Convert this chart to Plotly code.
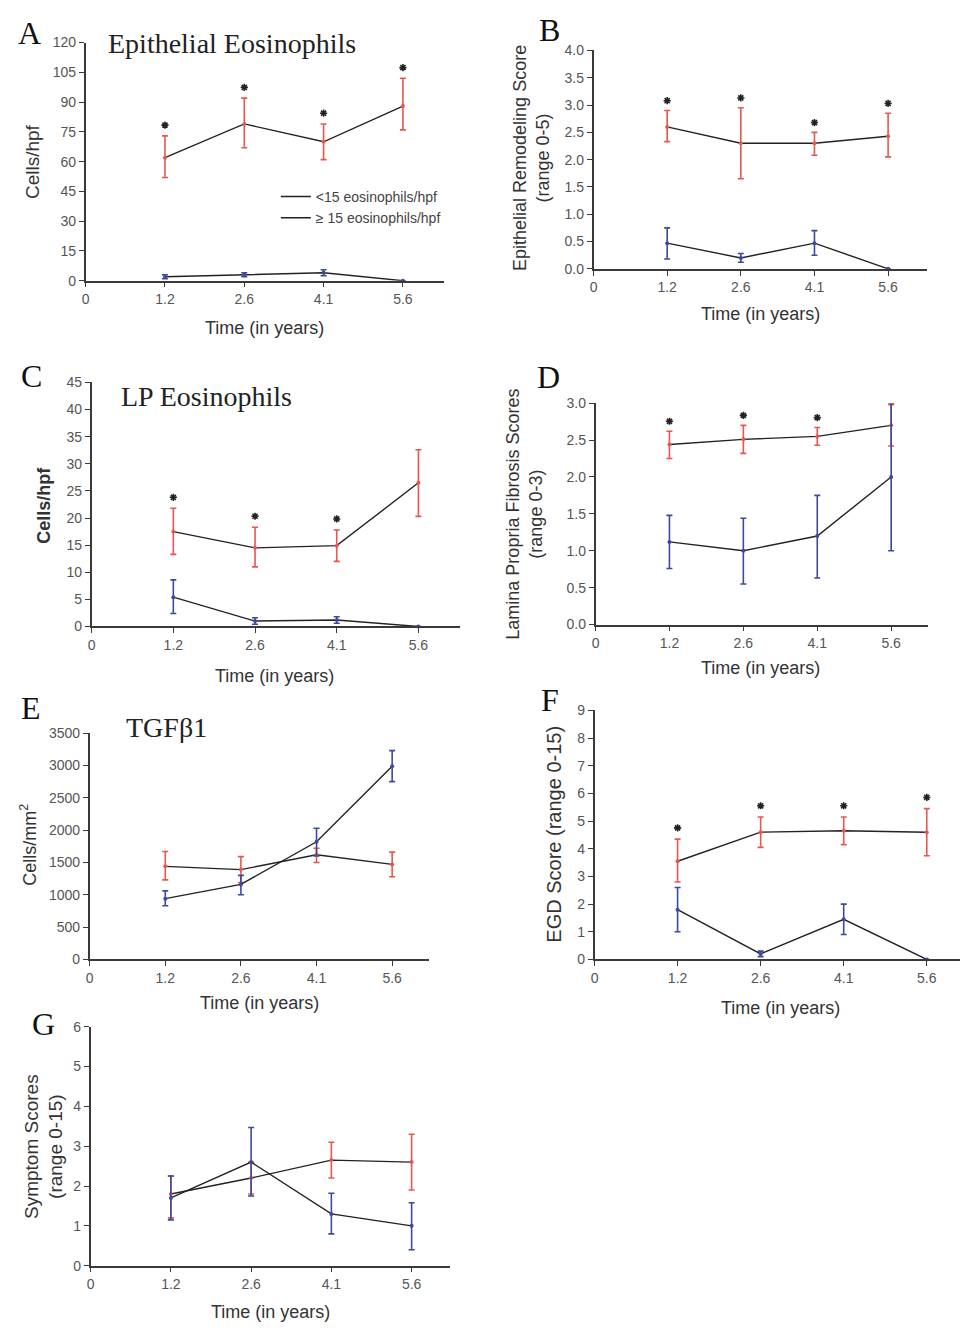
import plotly.graph_objects as go

W, H = 960, 1332

time_labels = ["0", "1.2", "2.6", "4.1", "5.6"]

# A: Epithelial eosinophils (cells/hpf)
epi_eos_high = [62, 79, 70, 88]
epi_eos_high_lo = [52, 67, 61, 76]
epi_eos_high_up = [73, 92, 79, 102]
epi_eos_low = [2, 3, 4, 0]
epi_eos_low_lo = [1, 2, 2.5, 0]
epi_eos_low_up = [3, 4, 5.5, 0]
epi_eos_sig = [1, 1, 1, 1]

# B: Epithelial remodeling score
remod_high = [2.6, 2.3, 2.3, 2.43]
remod_high_lo = [2.33, 1.65, 2.08, 2.05]
remod_high_up = [2.9, 2.95, 2.5, 2.85]
remod_low = [0.47, 0.2, 0.47, 0.0]
remod_low_lo = [0.18, 0.12, 0.25, 0.0]
remod_low_up = [0.75, 0.28, 0.7, 0.0]
remod_sig = [1, 1, 1, 1]

# C: LP eosinophils
lp_eos_high = [17.5, 14.5, 14.9, 26.5]
lp_eos_high_lo = [13.3, 11.0, 12.0, 20.3]
lp_eos_high_up = [21.8, 18.3, 17.8, 32.6]
lp_eos_low = [5.4, 1.0, 1.2, 0.0]
lp_eos_low_lo = [2.4, 0.4, 0.6, 0.0]
lp_eos_low_up = [8.6, 1.6, 1.8, 0.0]
lp_eos_sig = [1, 1, 1, 0]

# D: Lamina propria fibrosis
fib_high = [2.44, 2.51, 2.55, 2.7]
fib_high_lo = [2.25, 2.32, 2.43, 2.42]
fib_high_up = [2.62, 2.7, 2.67, 2.98]
fib_low = [1.12, 1.0, 1.2, 2.0]
fib_low_lo = [0.76, 0.55, 0.63, 1.0]
fib_low_up = [1.48, 1.44, 1.75, 3.0]
fib_sig = [1, 1, 1, 0]

# E: TGFb1 (cells/mm2)
tgf_high = [1440, 1390, 1620, 1470]
tgf_high_lo = [1230, 1190, 1500, 1280]
tgf_high_up = [1670, 1590, 1720, 1660]
tgf_low = [940, 1160, 1820, 2990]
tgf_low_lo = [830, 1000, 1600, 2750]
tgf_low_up = [1060, 1300, 2030, 3230]
tgf_sig = [0, 0, 0, 0]

# F: EGD score
egd_high = [3.55, 4.6, 4.65, 4.6]
egd_high_lo = [2.8, 4.05, 4.15, 3.75]
egd_high_up = [4.35, 5.15, 5.15, 5.45]
egd_low = [1.8, 0.2, 1.45, 0.0]
egd_low_lo = [1.0, 0.1, 0.9, 0.0]
egd_low_up = [2.6, 0.3, 2.0, 0.0]
egd_sig = [1, 1, 1, 1]

# G: Symptom scores
sym_high = [1.8, 2.2, 2.65, 2.6]
sym_high_lo = [1.2, 1.8, 2.2, 1.9]
sym_high_up = [2.25, 2.6, 3.1, 3.3]
sym_low = [1.7, 2.6, 1.3, 1.0]
sym_low_lo = [1.15, 1.75, 0.8, 0.4]
sym_low_up = [2.25, 3.47, 1.82, 1.58]
sym_sig = [0, 0, 0, 0]

legend_low = "<15 eosinophils/hpf"
legend_high = "\u2265 15 eosinophils/hpf"

RED = "#e8574f"
BLUE = "#3c4a9c"
AX = "#3a3a3a"
TICKC = "#555555"
SANS = "Arial, Liberation Sans, sans-serif"
SERIF = "Times New Roman, Liberation Serif, serif"

fig = go.Figure()

panels = [
    dict(letter="A", letter_xy=(26, 25), box=(82, 35, 442, 276), ymax=120, dtick=15, fmt="d", xmax=4.52,
         high=(epi_eos_high, epi_eos_high_lo, epi_eos_high_up), low=(epi_eos_low, epi_eos_low_lo, epi_eos_low_up),
         sig=epi_eos_sig, ytitle="Cells/hpf", ytitle_xy=(28, 155), ysize=19, ybold=False,
         xtitle_xy=(262, 324), title="Epithelial Eosinophils", title_xy=(102, 36), legend=True),
    dict(letter="B", letter_xy=(548, 22), box=(592, 43, 927, 264), ymax=4, dtick=0.5, fmt=".1f", xmax=4.53,
         high=(remod_high, remod_high_lo, remod_high_up), low=(remod_low, remod_low_lo, remod_low_up),
         sig=remod_sig, ytitle="Epithelial Remodeling Score<br>(range 0-5)", ytitle_xy=(529, 152), ysize=18, ybold=False,
         xtitle_xy=(760, 310), title=None, title_xy=None, legend=False),
    dict(letter="C", letter_xy=(28, 372), box=(88, 379, 458, 626), ymax=45, dtick=5, fmt="d", xmax=4.51,
         high=(lp_eos_high, lp_eos_high_lo, lp_eos_high_up), low=(lp_eos_low, lp_eos_low_lo, lp_eos_low_up),
         sig=lp_eos_sig, ytitle="Cells/hpf", ytitle_xy=(40, 503), ysize=18, ybold=True,
         xtitle_xy=(272, 676), title="LP Eosinophils", title_xy=(115, 393), legend=False),
    dict(letter="D", letter_xy=(547, 373), box=(594, 400, 928, 624), ymax=3, dtick=0.5, fmt=".1f", xmax=4.5,
         high=(fib_high, fib_high_lo, fib_high_up), low=(fib_low, fib_low_lo, fib_low_up),
         sig=fib_sig, ytitle="Lamina Propria Fibrosis Scores<br>(range 0-3)", ytitle_xy=(523, 512), ysize=18, ybold=False,
         xtitle_xy=(760, 668), title=None, title_xy=None, legend=False),
    dict(letter="E", letter_xy=(27, 709), box=(86, 734, 427, 963), ymax=3500, dtick=500, fmt="d", xmax=4.49,
         high=(tgf_high, tgf_high_lo, tgf_high_up), low=(tgf_low, tgf_low_lo, tgf_low_up),
         sig=tgf_sig, ytitle="Cells/mm<sup>2</sup>", ytitle_xy=(25, 847), ysize=18, ybold=False,
         xtitle_xy=(257, 1007), title="TGF\u03b21", title_xy=(120, 728), legend=False),
    dict(letter="F", letter_xy=(548, 700), box=(593, 711, 960, 963), ymax=9, dtick=1, fmt="d", xmax=4.4,
         high=(egd_high, egd_high_lo, egd_high_up), low=(egd_low, egd_low_lo, egd_low_up),
         sig=egd_sig, ytitle="EGD Score (range 0-15)", ytitle_xy=(552, 836), ysize=20, ybold=False,
         xtitle_xy=(780, 1012), title=None, title_xy=None, legend=False),
    dict(letter="G", letter_xy=(40, 1028), box=(87, 1031, 448, 1273), ymax=6, dtick=1, fmt="d", xmax=4.48,
         high=(sym_high, sym_high_lo, sym_high_up), low=(sym_low, sym_low_lo, sym_low_up),
         sig=sym_sig, ytitle="Symptom Scores<br>(range 0-15)", ytitle_xy=(40, 1152), ysize=19, ybold=False,
         xtitle_xy=(268, 1320), title=None, title_xy=None, legend=False),
]

xpos = list(range(1, len(time_labels)))
annotations = []

for i, p in enumerate(panels, start=1):
    xa = "x" if i == 1 else f"x{i}"
    ya = "y" if i == 1 else f"y{i}"
    x0, y0, x1, y1 = p["box"]
    axstyle = dict(showline=True, linecolor=AX, linewidth=1.5, ticks="outside", ticklen=5,
                   tickwidth=1.3, tickcolor=AX, showgrid=False, zeroline=False,
                   tickfont=dict(family=SANS, size=14, color=TICKC), fixedrange=True)
    fig.layout[f"xaxis{'' if i == 1 else i}"] = dict(
        domain=[x0 / W, x1 / W], anchor=ya, range=[0, p["xmax"]],
        tickmode="array", tickvals=list(range(len(time_labels))), ticktext=time_labels, **axstyle)
    fig.layout[f"yaxis{'' if i == 1 else i}"] = dict(
        domain=[1 - y1 / H, 1 - y0 / H], anchor=xa, range=[0, p["ymax"]],
        tickmode="linear", tick0=0, dtick=p["dtick"], tickformat=p["fmt"], **axstyle)

    for key, col, name in (("high", RED, legend_high), ("low", BLUE, legend_low)):
        mean, lo, up = p[key]
        fig.add_trace(go.Scatter(
            x=xpos, y=mean, xaxis=xa, yaxis=ya, mode="lines",
            line=dict(color="#222222", width=1.4), name=name,
            showlegend=p["legend"], legendrank=2 if key == "high" else 1,
            cliponaxis=False, hoverinfo="skip"))
        fig.add_trace(go.Scatter(
            x=xpos, y=mean, xaxis=xa, yaxis=ya, mode="markers",
            marker=dict(color=col, size=4), showlegend=False, cliponaxis=False,
            error_y=dict(type="data", symmetric=False,
                         array=[u - m for u, m in zip(up, mean)],
                         arrayminus=[m - l for m, l in zip(mean, lo)],
                         color=col, thickness=1.6, width=3)))

    # significance asterisks above the >=15 group
    _, _, up = p["high"]
    sx = [x for x, s in zip(xpos, p["sig"]) if s]
    sy = [u + 0.045 * p["ymax"] for u, s in zip(up, p["sig"]) if s]
    if sx:
        fig.add_trace(go.Scatter(
            x=sx, y=sy, xaxis=xa, yaxis=ya, mode="markers", showlegend=False,
            marker=dict(symbol="asterisk-open", size=6, color="#222222",
                        line=dict(color="#222222", width=1.6)),
            cliponaxis=False, hoverinfo="skip"))

    lx, ly = p["letter_xy"]
    annotations.append(dict(text=p["letter"], x=lx / W, y=1 - ly / H, xref="paper", yref="paper",
                            showarrow=False, xanchor="center", yanchor="middle",
                            font=dict(family=SERIF, size=32, color="#111111")))
    tx, ty = p["ytitle_xy"]
    yt = f"<b>{p['ytitle']}</b>" if p["ybold"] else p["ytitle"]
    annotations.append(dict(text=yt, x=tx / W, y=1 - ty / H, xref="paper", yref="paper",
                            showarrow=False, textangle=-90, xanchor="center", yanchor="middle",
                            font=dict(family=SANS, size=p["ysize"], color="#333333")))
    xtx, xty = p["xtitle_xy"]
    annotations.append(dict(text="Time (in years)", x=xtx / W, y=1 - xty / H, xref="paper", yref="paper",
                            showarrow=False, xanchor="center", yanchor="middle",
                            font=dict(family=SANS, size=18, color="#333333")))
    if p["title"]:
        ttx, tty = p["title_xy"]
        annotations.append(dict(text=p["title"], x=ttx / W, y=1 - tty / H, xref="paper", yref="paper",
                                showarrow=False, xanchor="left", yanchor="middle",
                                font=dict(family=SERIF, size=28, color="#222222")))

fig.update_layout(
    width=W, height=H, margin=dict(l=0, r=0, t=0, b=0),
    paper_bgcolor="white", plot_bgcolor="white",
    annotations=annotations,
    legend=dict(x=273 / W, y=1 - 175 / H, xanchor="left", yanchor="top",
                font=dict(family=SANS, size=14, color="#444444"),
                bgcolor="rgba(0,0,0,0)", tracegroupgap=0, itemwidth=30),
)

fig.write_html("out.html", config={"displayModeBar": False},
               post_script="document.body.style.margin='0';document.body.style.overflow='hidden';")
